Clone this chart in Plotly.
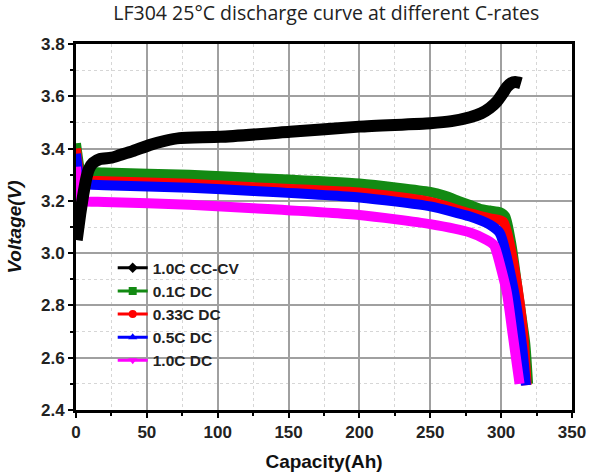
import plotly.graph_objects as go

# ---- data (Capacity in Ah, Voltage in V) ----
cccv_x = [0.5, 1.5, 3, 5, 7, 9, 12, 17, 25, 31, 40, 52, 63, 73, 102, 151, 200, 250, 265, 278, 286, 292, 297, 301, 304, 307, 310, 314]
cccv_y = [3.05, 3.09, 3.15, 3.22, 3.28, 3.32, 3.345, 3.36, 3.365, 3.375, 3.39, 3.414, 3.43, 3.44, 3.445, 3.464, 3.484, 3.497, 3.505, 3.52, 3.535, 3.555, 3.58, 3.61, 3.635, 3.65, 3.655, 3.65]

c01_x = [0, 1, 2.5, 5, 10, 20, 80, 125, 200, 250, 260, 270, 278, 285, 292, 299, 303, 307.5, 312, 317, 319]
c01_y = [3.42, 3.38, 3.33, 3.31, 3.31, 3.308, 3.30, 3.288, 3.266, 3.234, 3.22, 3.20, 3.184, 3.17, 3.163, 3.157, 3.14, 3.025, 2.847, 2.656, 2.50]

c033_x = [0, 1, 2.5, 5, 20, 80, 125, 200, 250, 278, 292, 301.5, 310, 315.5, 318]
c033_y = [3.40, 3.35, 3.30, 3.28, 3.275, 3.265, 3.252, 3.232, 3.196, 3.152, 3.133, 3.12, 2.92, 2.695, 2.495]

c05_x = [0, 1, 2.5, 5, 20, 80, 125, 200, 250, 278, 292, 299, 308.5, 314.5, 317.5]
c05_y = [3.38, 3.33, 3.28, 3.265, 3.26, 3.25, 3.238, 3.213, 3.179, 3.14, 3.109, 3.077, 2.87, 2.656, 2.495]

c10_x = [0, 1, 2.5, 5, 20, 80, 125, 200, 250, 278, 290, 295, 297, 304, 308, 313]
c10_y = [3.33, 3.27, 3.22, 3.20, 3.196, 3.185, 3.172, 3.146, 3.111, 3.079, 3.05, 3.03, 3.0, 2.85, 2.695, 2.50]

names = ["1.0C CC-CV", "0.1C DC", "0.33C DC", "0.5C DC", "1.0C DC"]
colors = ["#000000", "#138a13", "#ff0000", "#0000ff", "#ff00ff"]
symbols = ["diamond", "square", "circle", "triangle-up", "triangle-down"]

x_ticks = [0, 50, 100, 150, 200, 250, 300, 350]
y_ticks = [2.4, 2.6, 2.8, 3.0, 3.2, 3.4, 3.6, 3.8]

fig = go.Figure()

series = [(c01_x, c01_y, 1, 10), (c033_x, c033_y, 2, 10), (c05_x, c05_y, 3, 10),
          (c10_x, c10_y, 4, 10), (cccv_x, cccv_y, 0, 12)]
for xs, ys, i, w in series:
    fig.add_trace(go.Scatter(x=xs, y=ys, mode="lines", line=dict(color=colors[i], width=w, shape="spline", smoothing=0.6),
                             showlegend=False, hoverinfo="skip"))

# legend-only entries (thin line + marker)
for i in range(5):
    fig.add_trace(go.Scatter(x=[None], y=[None], mode="lines+markers", name=names[i],
                             line=dict(color=colors[i], width=3),
                             marker=dict(symbol=symbols[i], size=8, color=colors[i])))

axis_common = dict(showline=True, linewidth=3, linecolor="black", mirror=True,
                   ticks="outside", ticklen=5, tickwidth=2, tickcolor="black",
                   showgrid=True, gridcolor="#a0a0a0", gridwidth=1.5,
                   tickfont=dict(family="Liberation Sans", size=17, color="#222222", weight="bold"),
                   zeroline=False, automargin=False)

fig.update_xaxes(range=[0, 350], tickvals=x_ticks, ticktext=[str(v) for v in x_ticks],
                 minor=dict(dtick=25, ticks="outside", ticklen=3, tickcolor="black", showgrid=True,
                            gridcolor="#d6d6d6", griddash="dot", gridwidth=1),
                 title=dict(text="Capacity(Ah)", font=dict(family="Liberation Sans", size=19, color="#111", weight="bold"), standoff=14),
                 **axis_common)
fig.update_yaxes(range=[2.4, 3.8], tickvals=y_ticks, ticktext=[f"{v:.1f}" for v in y_ticks],
                 minor=dict(dtick=0.1, ticks="outside", ticklen=3, tickcolor="black", showgrid=True,
                            gridcolor="#d6d6d6", griddash="dot", gridwidth=1),
                 title=dict(text="<i>Voltage(V)</i>", font=dict(family="Liberation Sans", size=19, color="#111", weight="bold"), standoff=15),
                 **axis_common)

fig.update_layout(
    width=590, height=475,
    margin=dict(l=76, r=18, t=44, b=65),
    paper_bgcolor="white", plot_bgcolor="white",
    title=dict(text="LF304 25°C discharge curve at different C-rates", x=0.553, xanchor="center", y=0.973, yanchor="middle",
               font=dict(family="Open Sans", size=19.5, color="#222")),
    legend=dict(x=0.074, y=0.434, xanchor="left", yanchor="top", bgcolor="rgba(0,0,0,0)",
                font=dict(family="Liberation Sans", size=15.5, color="#222", weight="bold"),
                tracegroupgap=0),
)

fig.write_html("out.html", config={"displayModeBar": False},
               post_script="document.body.style.margin='0';")
